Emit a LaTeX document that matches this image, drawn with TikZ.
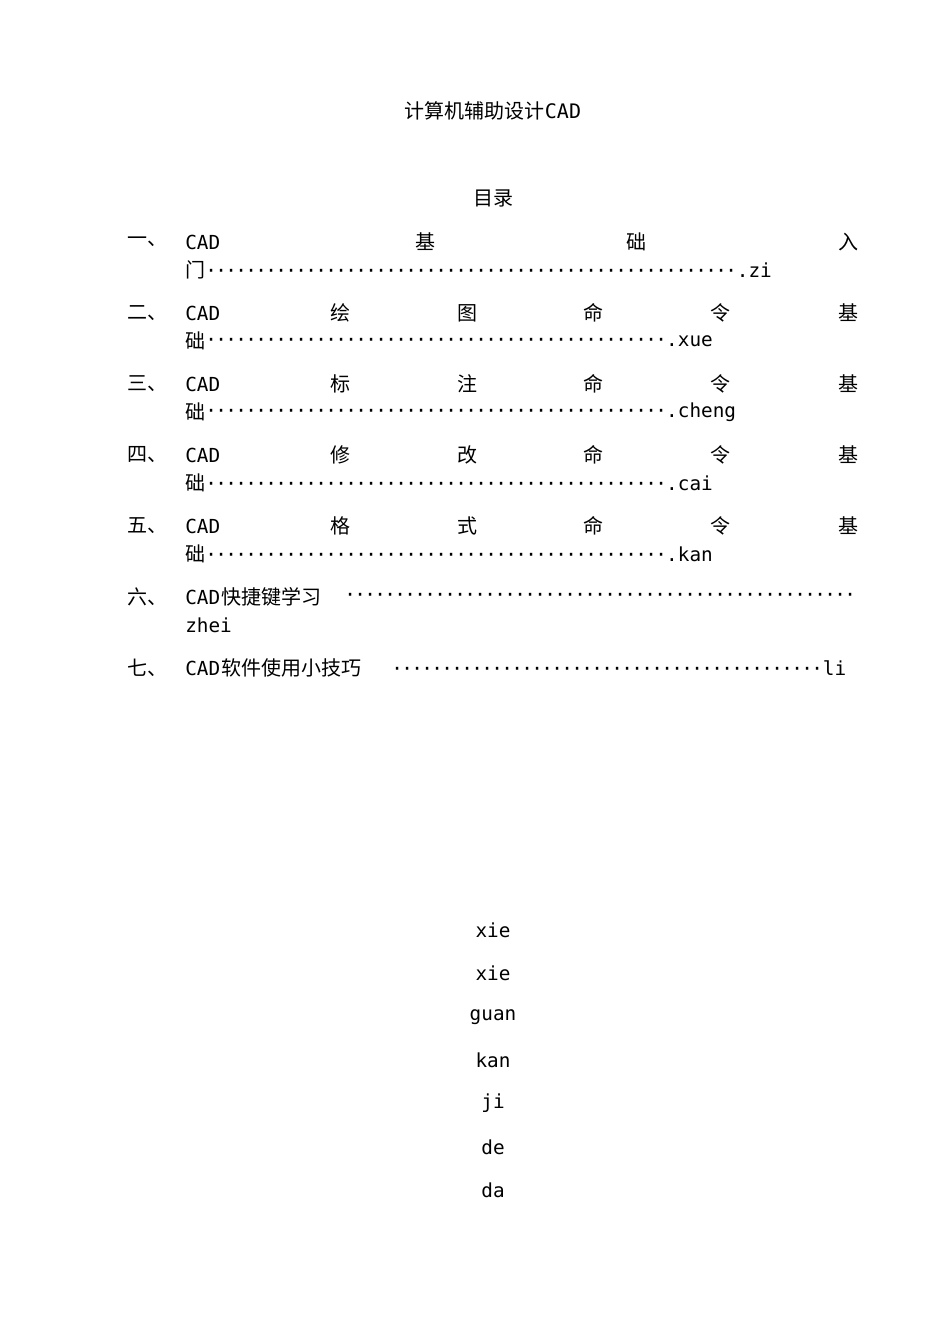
\documentclass[tikz,border=0pt]{standalone}
\usepackage{fontspec}
\newfontfamily\cjk{Noto Sans CJK SC}[FakeBold=0]
\newfontfamily\lat{DejaVu Sans Mono}
\newcommand{\ldr}[1]{\hbox to #1{\leaders\hbox to 7.5pt{\hss\lat ·\hss}\hfill}}
\begin{document}
\begin{tikzpicture}[x=0.75pt,y=-0.75pt,
  t/.style={inner sep=0pt,font=\cjk\fontsize{15pt}{18pt}\selectfont},
  w/.style={t,anchor=west},
  l/.style={inner sep=0pt,anchor=west,font=\lat\fontsize{14.5pt}{18pt}\selectfont},
  c/.style={inner sep=0pt,font=\lat\fontsize{14.5pt}{18pt}\selectfont}]
\useasboundingbox (0,0) rectangle (950,1344);
\node[t] (title) at (493,111) {计算机辅助设计{\lat CAD}};
\node[t] (toc) at (493,198) {目录};
% row 1
\node[w] (n1) at (127,242) {一、};
\node[l] (c1) at (185,242) {CAD};
\node[t] (a1) at (425,242) {基};
\node[t] (b1) at (636,242) {础};
\node[t] (d1) at (848,242) {入};
\node[w] (e1) at (185,270) {门};
\node[l] (f1) at (206,270) {\ldr{398pt}.zi};
% row 2
\node[w] (n2) at (127,313) {二、};
\node[l] (c2) at (185,313) {CAD};
\node[t] at (340,313) {绘}; \node[t] at (467,313) {图}; \node[t] at (593,313) {命}; \node[t] at (720,313) {令}; \node[t] at (848,313) {基};
\node[w] (e2) at (185,341) {础};
\node[l] (f2) at (206,341) {\ldr{345pt}.xue};
% row 3
\node[w] (n3) at (127,384) {三、};
\node[l] (c3) at (185,384) {CAD};
\node[t] at (340,384) {标}; \node[t] at (467,384) {注}; \node[t] at (593,384) {命}; \node[t] at (720,384) {令}; \node[t] at (848,384) {基};
\node[w] (e3) at (185,412) {础};
\node[l] (f3) at (206,412) {\ldr{345pt}.cheng};
% row 4
\node[w] (n4) at (127,455) {四、};
\node[l] (c4) at (185,455) {CAD};
\node[t] at (340,455) {修}; \node[t] at (467,455) {改}; \node[t] at (593,455) {命}; \node[t] at (720,455) {令}; \node[t] at (848,455) {基};
\node[w] (e4) at (185,483) {础};
\node[l] (f4) at (206,483) {\ldr{345pt}.cai};
% row 5
\node[w] (n5) at (127,526) {五、};
\node[l] (c5) at (185,526) {CAD};
\node[t] at (340,526) {格}; \node[t] at (467,526) {式}; \node[t] at (593,526) {命}; \node[t] at (720,526) {令}; \node[t] at (848,526) {基};
\node[w] (e5) at (185,554) {础};
\node[l] (f5) at (206,554) {\ldr{345pt}.kan};
% row 6
\node[w] (n6) at (127,597) {六、};
\node[l] (c6) at (185,597) {CAD};
\node[w] (g6) at (221,597) {快捷键学习};
\node[l] (f6) at (345,597) {\ldr{383pt}};
\node[l] (e6) at (185,625) {zhei};
% row 7
\node[w] (n7) at (127,668) {七、};
\node[l] (c7) at (185,668) {CAD};
\node[w] (g7) at (221,668) {软件使用小技巧};
\node[l] (f7) at (392,668) {\ldr{323pt}li};
% bottom
\node[c] (x1) at (493,930) {xie};
\node[c] (x2) at (493,973) {xie};
\node[c] (x3) at (493,1017) {guan};
\node[c] (x4) at (493,1060) {kan};
\node[c] (x5) at (493,1103) {ji};
\node[c] (x6) at (493,1147) {de};
\node[c] (x7) at (493,1190) {da};
\end{tikzpicture}
\end{document}
